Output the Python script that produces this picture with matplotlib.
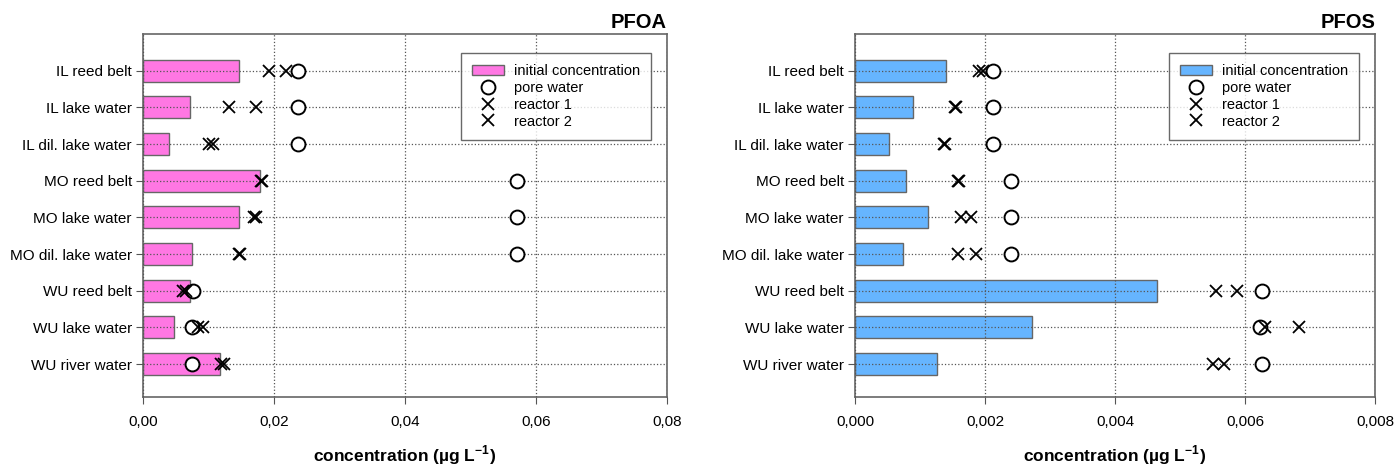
import matplotlib
matplotlib.use("Agg")
import matplotlib.pyplot as plt
from matplotlib.lines import Line2D
from matplotlib.patches import Patch
from matplotlib.ticker import FuncFormatter
import numpy as np

plt.rcParams['font.family'] = ['Liberation Sans', 'DejaVu Sans']
plt.rcParams['mathtext.fontset'] = 'custom'
plt.rcParams['mathtext.rm'] = 'Liberation Sans'
plt.rcParams['mathtext.bf'] = 'Liberation Sans:bold'

# sample sites (top to bottom)
sites = ['IL reed belt', 'IL lake water', 'IL dil. lake water',
         'MO reed belt', 'MO lake water', 'MO dil. lake water',
         'WU reed belt', 'WU lake water', 'WU river water']

# PFOA (µg/L)
pfoa_initial = [0.0146, 0.0071, 0.0039, 0.0178, 0.0146, 0.0075, 0.0071, 0.0048, 0.0117]
pfoa_pore = [0.0236, 0.0236, 0.0236, 0.0571, 0.0571, 0.0571, 0.0077, 0.0075, 0.0075]
pfoa_r1 = [0.0192, 0.0132, 0.0101, 0.0180, 0.0169, 0.0147, 0.0061, 0.0084, 0.0119]
pfoa_r2 = [0.0218, 0.0172, 0.0107, 0.0181, 0.0172, 0.0148, 0.0065, 0.0091, 0.0124]

# PFOS (µg/L)
pfos_initial = [0.00140, 0.00089, 0.00052, 0.00078, 0.00112, 0.00074, 0.00464, 0.00273, 0.00126]
pfos_pore = [0.00212, 0.00212, 0.00212, 0.00240, 0.00240, 0.00240, 0.00626, 0.00623, 0.00626]
pfos_r1 = [0.00190, 0.00154, 0.00137, 0.00159, 0.00163, 0.00159, 0.00556, 0.00630, 0.00550]
pfos_r2 = [0.00197, 0.00156, 0.00138, 0.00160, 0.00178, 0.00186, 0.00588, 0.00683, 0.00567]


def panel(ax, title, initial, pore, r1, r2, color, xmax, step, ndec):
    y = np.arange(len(sites))
    ax.barh(y, initial, height=0.6, color=color, edgecolor='#666666', linewidth=1.0, zorder=1)
    ax.grid(True, linestyle=':', color='#555555', linewidth=0.9, zorder=2)
    ax.set_axisbelow(False)
    ax.plot(pore, y, linestyle='none', marker='o', markersize=10, markerfacecolor='white',
            markeredgecolor='black', markeredgewidth=1.4, zorder=4)
    ax.plot(r1, y, linestyle='none', marker='x', markersize=9, color='black',
            markeredgewidth=1.3, zorder=5)
    ax.plot(r2, y, linestyle='none', marker='x', markersize=9, color='black',
            markeredgewidth=1.3, zorder=5)

    ax.set_yticks(y)
    ax.set_yticklabels(sites, fontsize=11)
    ax.set_ylim(8.9, -1)
    ax.set_xlim(0, xmax)
    ax.set_xticks(np.arange(0, xmax + step / 2, step))
    ax.xaxis.set_major_formatter(FuncFormatter(lambda v, p: f"{v:.{ndec}f}".replace('.', ',')))
    ax.tick_params(axis='x', labelsize=11, length=5, color='#555555', pad=8)
    ax.tick_params(axis='y', length=5, color='#555555', pad=3)
    for s in ax.spines.values():
        s.set_color('#666666')
        s.set_linewidth(1.2)
    ax.set_xlabel('concentration (µg L$^{\\mathbf{-1}}$)', fontsize=12.5, fontweight='bold', labelpad=10)
    ax.set_title(title, loc='right', fontsize=14.5, fontweight='bold', pad=4)

    handles = [Patch(facecolor=color, edgecolor='#666666', label='initial concentration'),
               Line2D([], [], linestyle='none', marker='o', markersize=10, markerfacecolor='white',
                      markeredgecolor='black', markeredgewidth=1.4, label='pore water'),
               Line2D([], [], linestyle='none', marker='x', markersize=9, color='black',
                      markeredgewidth=1.3, label='reactor 1'),
               Line2D([], [], linestyle='none', marker='x', markersize=9, color='black',
                      markeredgewidth=1.3, label='reactor 2')]
    leg = ax.legend(handles=handles, loc='upper right', bbox_to_anchor=(0.97, 0.948),
                    fontsize=10.5, frameon=True, fancybox=False, edgecolor='#444444',
                    borderpad=0.75, labelspacing=0.2, handlelength=2.2, handletextpad=0.7,
                    borderaxespad=0)
    leg.get_frame().set_linewidth(1.0)
    leg.set_zorder(10)


fig = plt.figure(figsize=(13.95, 4.65), dpi=100)
ax1 = fig.add_axes([143 / 1395, 68 / 465, 524 / 1395, 363 / 465])
ax2 = fig.add_axes([855 / 1395, 68 / 465, 520 / 1395, 363 / 465])

panel(ax1, 'PFOA', pfoa_initial, pfoa_pore, pfoa_r1, pfoa_r2, '#FF77E3', 0.08, 0.02, 2)
panel(ax2, 'PFOS', pfos_initial, pfos_pore, pfos_r1, pfos_r2, '#66B5FF', 0.008, 0.002, 3)

fig.savefig('out.png', dpi=100)
